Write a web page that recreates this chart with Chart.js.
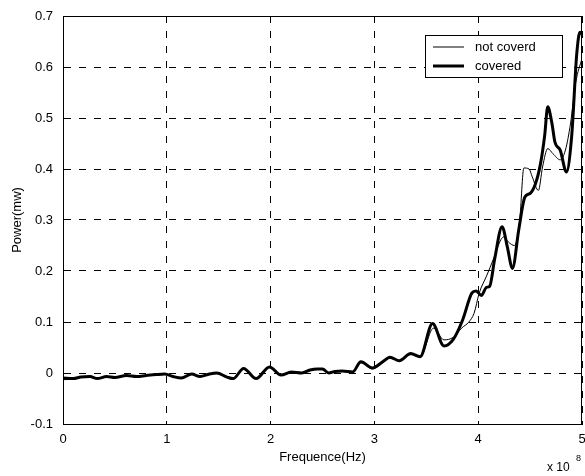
<!DOCTYPE html>
<html>
<head>
<meta charset="utf-8">
<script src="https://cdn.jsdelivr.net/npm/chart.js@4.4.1/dist/chart.umd.min.js"></script>
<style>
  html, body { margin: 0; padding: 0; background: #fff; }
  #wrap { width: 585px; height: 476px; }
</style>
</head>
<body>
<div id="wrap"><canvas id="powerChart" width="585" height="476"></canvas></div>
<script>
// Частота (x 10^8 Гц) и мощность (мВт)
const freqCovered = [0.00, 0.10, 0.17, 0.26, 0.33, 0.42, 0.50, 0.61, 0.71, 0.80, 0.90, 0.98,
    1.06, 1.14, 1.24, 1.32, 1.41, 1.48, 1.58, 1.64, 1.74, 1.86, 1.99, 2.10, 2.20, 2.30,
    2.38, 2.45, 2.50, 2.56, 2.62, 2.69, 2.79, 2.87, 2.98, 3.08, 3.15, 3.24, 3.35, 3.44,
    3.56, 3.67, 3.76, 3.85, 3.94, 3.98, 4.03, 4.08, 4.11, 4.16, 4.23, 4.28, 4.33, 4.39,
    4.45, 4.50, 4.55, 4.60, 4.64, 4.67, 4.71, 4.74, 4.79, 4.85, 4.90, 4.95, 4.98, 5.00];
const powerCovered = [-0.010, -0.011, -0.008, -0.007, -0.011, -0.007, -0.009, -0.005, -0.007, -0.005, -0.003, -0.002,
    -0.007, -0.010, -0.002, -0.007, -0.002, 0.000, -0.008, -0.011, 0.009, -0.011, 0.012, -0.004, 0.002, 0.000,
    0.006, 0.008, 0.008, 0.000, 0.003, 0.004, 0.002, 0.022, 0.010, 0.022, 0.031, 0.024, 0.038, 0.032,
    0.097, 0.053, 0.066, 0.104, 0.157, 0.161, 0.152, 0.168, 0.170, 0.225, 0.287, 0.248, 0.205, 0.280,
    0.345, 0.352, 0.370, 0.410, 0.465, 0.522, 0.490, 0.452, 0.437, 0.394, 0.463, 0.627, 0.668, 0.665];

const freqNotCovered = [0.00, 0.10, 0.17, 0.26, 0.33, 0.42, 0.50, 0.61, 0.71, 0.80, 0.90, 0.98,
    1.06, 1.14, 1.24, 1.32, 1.41, 1.48, 1.58, 1.64, 1.74, 1.86, 1.99, 2.10, 2.20, 2.30,
    2.38, 2.45, 2.50, 2.56, 2.62, 2.69, 2.79, 2.87, 2.98, 3.08, 3.15, 3.24, 3.35, 3.44,
    3.57, 3.67, 3.76, 3.84, 3.91, 3.96, 4.01, 4.08, 4.15, 4.22, 4.25, 4.29, 4.35, 4.40,
    4.44, 4.49, 4.52, 4.58, 4.62, 4.67, 4.72, 4.79, 4.84, 4.89, 4.94, 5.00];
const powerNotCovered = [-0.013, -0.012, -0.009, -0.008, -0.010, -0.008, -0.009, -0.006, -0.007, -0.005, -0.004, -0.003,
    -0.006, -0.009, -0.003, -0.006, -0.003, -0.001, -0.007, -0.010, 0.008, -0.010, 0.011, -0.003, 0.001, 0.000,
    0.005, 0.007, 0.007, 0.001, 0.003, 0.004, 0.003, 0.020, 0.008, 0.020, 0.029, 0.024, 0.036, 0.032,
    0.088, 0.065, 0.070, 0.088, 0.100, 0.117, 0.157, 0.190, 0.225, 0.262, 0.267, 0.257, 0.250, 0.300,
    0.402, 0.400, 0.385, 0.358, 0.404, 0.440, 0.430, 0.418, 0.437, 0.490, 0.570, 0.617];

const xTicks = [0, 1, 2, 3, 4, 5];
const yTicks = [-0.1, 0, 0.1, 0.2, 0.3, 0.4, 0.5, 0.6, 0.7];

function toPoints(xs, ys) {
    return xs.map((x, i) => ({ x: x, y: ys[i] }));
}

const FONT = 'Liberation Sans, Arial, Helvetica, sans-serif';

// Рамка вокруг области графика, легенда в рамке и множитель оси X
const decorPlugin = {
    id: 'decor',
    afterDraw(chart) {
        const ctx = chart.ctx;
        const a = chart.chartArea;
        ctx.save();
        ctx.strokeStyle = '#000';
        ctx.lineWidth = 1;
        ctx.strokeRect(Math.round(a.left) + 0.5, Math.round(a.top) + 0.5,
            Math.round(a.right - a.left) - 1, Math.round(a.bottom - a.top));

        // легенда
        const lx = 425, ly = 35, lw = 137, lh = 42;
        ctx.fillStyle = '#fff';
        ctx.fillRect(lx, ly, lw, lh);
        ctx.strokeRect(lx + 0.5, ly + 0.5, lw, lh);
        ctx.font = '13px ' + FONT;
        ctx.textBaseline = 'middle';
        ctx.textAlign = 'left';
        chart.data.datasets.forEach((ds, i) => {
            const yy = ly + 12 + i * 19;
            ctx.beginPath();
            ctx.strokeStyle = ds.borderColor;
            ctx.lineWidth = ds.borderWidth;
            ctx.moveTo(433, yy);
            ctx.lineTo(464, yy);
            ctx.stroke();
            ctx.fillStyle = '#000';
            ctx.fillText(ds.label, 475, yy);
        });

        // x 10^8
        ctx.fillStyle = '#000';
        ctx.font = '12px ' + FONT;
        ctx.textBaseline = 'alphabetic';
        ctx.fillText('x 10', 547, 471);
        ctx.font = '9px ' + FONT;
        ctx.fillText('8', 576, 461);
        ctx.restore();
    }
};

document.addEventListener('DOMContentLoaded', function() {
    const ctx = document.getElementById('powerChart').getContext('2d');
    new Chart(ctx, {
        type: 'line',
        data: {
            datasets: [{
                label: 'not coverd',
                data: toPoints(freqNotCovered, powerNotCovered),
                borderColor: '#000',
                borderWidth: 1,
                pointRadius: 0,
                fill: false,
                cubicInterpolationMode: 'monotone'
            }, {
                label: 'covered',
                data: toPoints(freqCovered, powerCovered),
                borderColor: '#000',
                borderWidth: 3,
                pointRadius: 0,
                fill: false,
                cubicInterpolationMode: 'monotone'
            }]
        },
        options: {
            responsive: false,
            animation: false,
            devicePixelRatio: 1,
            layout: { padding: { top: 16, right: 3, left: 0, bottom: 0 } },
            plugins: {
                legend: { display: false },
                tooltip: { enabled: false }
            },
            scales: {
                x: {
                    type: 'linear',
                    min: 0,
                    max: 5,
                    afterBuildTicks: s => { s.ticks = xTicks.map(v => ({ value: v })); },
                    afterFit: s => {
                        s.height = 52;
                        s.paddingLeft = 0;
                        s.paddingRight = 0;
                    },
                    grid: {
                        color: '#000',
                        lineWidth: 1,
                        drawTicks: false
                    },
                    border: { display: true, color: '#000', width: 1, dash: [7, 8] },
                    ticks: {
                        color: '#000',
                        padding: 8,
                        maxRotation: 0,
                        font: { family: FONT, size: 13 },
                        callback: v => String(v)
                    },
                    title: {
                        display: true,
                        text: 'Frequence(Hz)',
                        color: '#000',
                        font: { family: FONT, size: 13 },
                        padding: { top: 0, bottom: 11 }
                    }
                },
                y: {
                    type: 'linear',
                    min: -0.1,
                    max: 0.7,
                    afterBuildTicks: s => { s.ticks = yTicks.map(v => ({ value: v })); },
                    afterFit: s => {
                        s.width = 63;
                        s.paddingTop = 0;
                        s.paddingBottom = 0;
                    },
                    grid: {
                        color: '#000',
                        lineWidth: 1,
                        drawTicks: false
                    },
                    border: { display: true, color: '#000', width: 1, dash: [7, 8] },
                    ticks: {
                        color: '#000',
                        padding: 10,
                        font: { family: FONT, size: 13 },
                        callback: v => String(Math.round(v * 10) / 10)
                    },
                    title: {
                        display: true,
                        text: 'Power(mw)',
                        color: '#000',
                        font: { family: FONT, size: 13 },
                        padding: { top: 10, bottom: 0 }
                    }
                }
            }
        },
        plugins: [decorPlugin]
    });
});
</script>
</body>
</html>
